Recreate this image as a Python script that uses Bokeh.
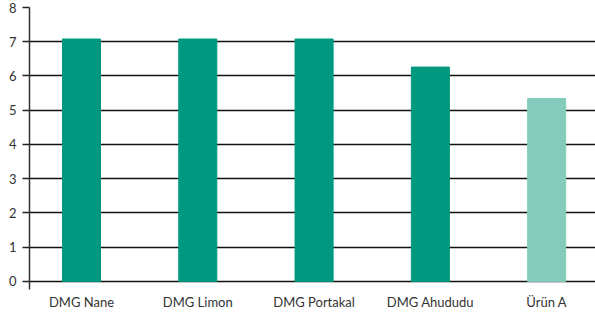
from bokeh.plotting import figure
from bokeh.models import Range1d, FixedTicker
from bokeh.embed import file_html
from bokeh.resources import INLINE

categories = ["DMG Nane", "DMG Limon", "DMG Portakal", "DMG Ahududu", "Ürün A"]
values = [7.08, 7.08, 7.08, 6.26, 5.34]
colors = ["#00987E", "#00987E", "#00987E", "#00987E", "#84CBBB"]
y_ticks = [0, 1, 2, 3, 4, 5, 6, 7, 8]

xs = list(range(len(categories)))

p = figure(width=595, height=315, output_backend="svg", toolbar_location=None,
           x_range=Range1d(-0.447, 4.42), y_range=Range1d(-0.235, 8),
           min_border_left=29, min_border_right=0, min_border_top=7, min_border_bottom=26)
p.outline_line_color = None
p.background_fill_color = "white"

p.vbar(x=xs, top=values, bottom=0, width=0.327, color=colors)

font = "Lato"
p.yaxis.ticker = FixedTicker(ticks=y_ticks)
p.yaxis.axis_line_color = "#333333"
p.yaxis.axis_line_width = 1.5
p.yaxis.major_tick_line_color = "#222222"
p.yaxis.major_tick_line_width = 1.5
p.yaxis.major_tick_out = 7
p.yaxis.major_tick_in = 0
p.yaxis.minor_tick_line_color = None
p.yaxis.major_label_text_font = font
p.yaxis.major_label_text_font_size = "13px"
p.yaxis.major_label_text_color = "#333333"
p.yaxis.major_label_standoff = 6

p.xaxis.ticker = FixedTicker(ticks=xs)
p.xaxis.major_label_overrides = {i: c for i, c in enumerate(categories)}
p.xaxis.axis_line_color = None
p.xaxis.major_tick_line_color = None
p.xaxis.major_tick_out = 0
p.xaxis.major_tick_in = 0
p.xaxis.minor_tick_line_color = None
p.xaxis.minor_tick_out = 0
p.xaxis.major_label_text_font = font
p.xaxis.major_label_text_font_size = "13px"
p.xaxis.major_label_text_color = "#333333"
p.xaxis.major_label_standoff = 4

p.xgrid.grid_line_color = None
p.ygrid.ticker = FixedTicker(ticks=y_ticks)
p.ygrid.grid_line_color = "#111111"
p.ygrid.grid_line_width = 1.5

open("out.html", "w").write(file_html(p, INLINE))
